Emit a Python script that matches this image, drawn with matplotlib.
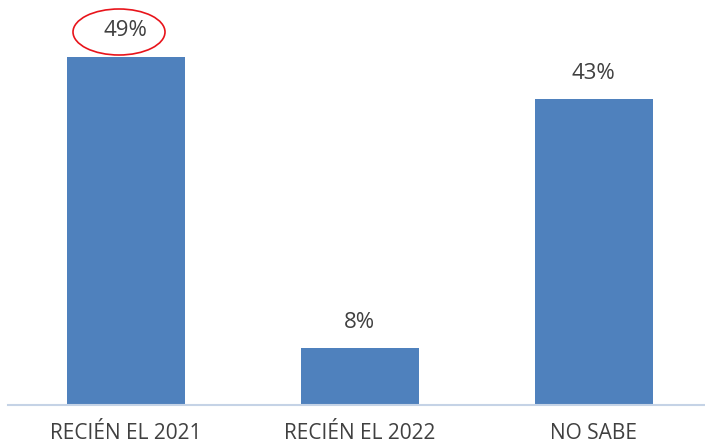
import matplotlib.pyplot as plt
from matplotlib.patches import Ellipse

categories = ['RECIÉN EL 2021', 'RECIÉN EL 2022', 'NO SABE']
values = [49, 8, 43]
labels = ['49%', '8%', '43%']

plt.rcParams['font.family'] = ['Open Sans', 'DejaVu Sans']

fig = plt.figure(figsize=(7.05, 4.46), dpi=100)
ax = fig.add_axes([8 / 705, 41 / 446, 697 / 705, 405 / 446])

x = range(len(categories))
bars = ax.bar(x, values, width=0.505, color='#4F81BD', zorder=2)

ax.set_xlim(-0.504, 2.475)
ax.set_ylim(0, 57)

for b, lab in zip(bars, labels):
    ax.annotate(lab, (b.get_x() + b.get_width() / 2, b.get_height()),
                xytext=(0, 26), textcoords='offset pixels',
                ha='center', va='center', fontsize=16, color='#404040')

# red ellipse around the first label
ell = Ellipse((119, 446 - 32), 92, 46, transform=None,
              fill=False, edgecolor='#E8141B', linewidth=1.2, zorder=5)
fig.add_artist(ell)

ax.set_xticks(list(x))
ax.set_xticklabels(categories, fontsize=15, color='#404040')
ax.tick_params(axis='x', length=0, pad=13)
ax.set_yticks([])

for s in ['top', 'right', 'left']:
    ax.spines[s].set_visible(False)
ax.spines['bottom'].set_color('#C5D3E6')
ax.spines['bottom'].set_linewidth(1.5)

fig.savefig('out.png', dpi=100)
